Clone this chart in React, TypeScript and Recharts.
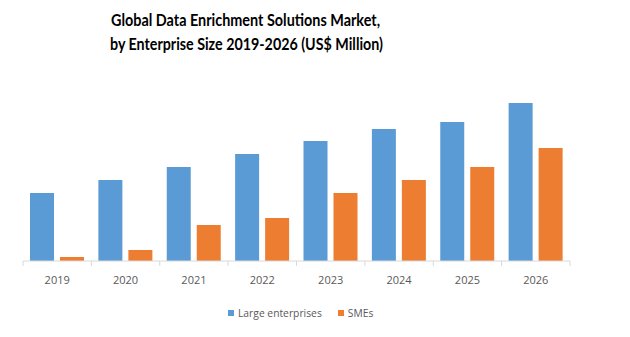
import { Bar, BarChart, XAxis, YAxis } from "recharts";

const years = ["2019", "2020", "2021", "2022", "2023", "2024", "2025", "2026"];
const largeEnterprises = [68, 81, 94, 107, 120, 132, 139, 158];
const smes = [4, 11, 36, 43, 68, 81, 94, 113];
const titleLines = [
  "Global Data Enrichment Solutions Market,",
  "by Enterprise Size 2019-2026 (US$ Million)",
];

const BLUE = "#5B9BD5";
const ORANGE = "#ED7D31";
const GRAY = "#595959";
const AXIS = "#D9D9D9";

const W = 630;
const H = 337;
const M = { top: 81, right: 60, bottom: 46, left: 23 };
const BAND = (W - M.left - M.right) / years.length;

const data = years.map((year, i) => ({
  year,
  large: largeEnterprises[i],
  smes: smes[i],
}));

// boundary ticks like the original: small marks between categories
const YearTick = ({ x, y, payload, index }: any) => (
  <g>
    <line x1={x - BAND / 2} x2={x - BAND / 2} y1={y - 8} y2={y - 3} stroke={AXIS} />
    {index === years.length - 1 && (
      <line x1={x + BAND / 2} x2={x + BAND / 2} y1={y - 8} y2={y - 3} stroke={AXIS} />
    )}
    <text x={x} y={y + 15} textAnchor="middle" fontSize={11} fill={GRAY} fontFamily="Open Sans">
      {payload.value}
    </text>
  </g>
);

export default function App() {
  return (
    <div style={{ position: "absolute", left: 0, top: 0, width: W, height: H, background: "#fff" }}>
      <svg width={W} height={70} style={{ position: "absolute", left: 0, top: 0 }}>
        <text x={111} y={26} textLength={269} lengthAdjust="spacingAndGlyphs" fontSize={17} fontWeight="bold" fontFamily="Lato" fill="#000">
          {titleLines[0]}
        </text>
        <text x={110} y={50} textLength={273} lengthAdjust="spacingAndGlyphs" fontSize={17} fontWeight="bold" fontFamily="Lato" fill="#000">
          {titleLines[1]}
        </text>
      </svg>
      <BarChart width={W} height={H} data={data} margin={M} barCategoryGap={7} barGap={6}>
        <XAxis
          dataKey="year"
          axisLine={{ stroke: AXIS }}
          tickLine={false}
          tick={<YearTick />}
          interval={0}
          height={30}
        />
        <YAxis hide domain={[0, 180]} />
        <Bar dataKey="large" name="Large enterprises" fill={BLUE} isAnimationActive={false} />
        <Bar dataKey="smes" name="SMEs" fill={ORANGE} isAnimationActive={false} />
      </BarChart>
      <div
        style={{
          position: "absolute",
          left: 228,
          top: 306,
          display: "flex",
          alignItems: "center",
          fontFamily: "Open Sans",
          fontSize: 10.3,
          color: GRAY,
        }}
      >
        <span style={{ width: 6, height: 6, background: BLUE, marginRight: 4 }} />
        <span style={{ marginRight: 16 }}>Large enterprises</span>
        <span style={{ width: 6, height: 6, background: ORANGE, marginRight: 4 }} />
        <span>SMEs</span>
      </div>
    </div>
  );
}
